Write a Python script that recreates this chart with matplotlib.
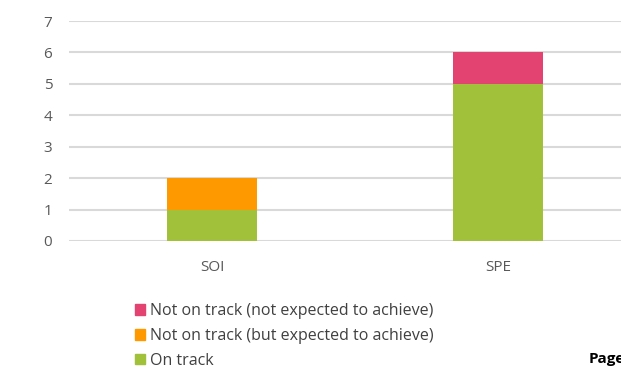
import matplotlib
matplotlib.use("Agg")
import matplotlib.pyplot as plt
from matplotlib.patches import Patch
import numpy as np

categories = ["SOI", "SPE"]
on_track = [1, 5]
not_on_track_expected = [1, 0]
not_on_track_not_expected = [0, 1]
series_names = ["On track", "Not on track (but expected to achieve)", "Not on track (not expected to achieve)"]
colors = ["#a2c13b", "#ff9900", "#e24371"]
yticks = [0, 1, 2, 3, 4, 5, 6, 7]

plt.rcParams['font.family'] = ['Open Sans', 'DejaVu Sans']

fig = plt.figure(figsize=(6.21, 3.68), dpi=100)
ax = fig.add_axes([69/621, (368-241)/368, (641-69)/621, (241-21)/368])

x = np.arange(len(categories))
w = 0.315
bottom = np.zeros(len(categories))
for vals, c in zip([on_track, not_on_track_expected, not_on_track_not_expected], colors):
    ax.bar(x, vals, w, bottom=bottom, color=c, zorder=3)
    bottom += np.array(vals)

ax.set_xlim(-0.5, 1.5)
ax.set_ylim(0, 7)
ax.set_yticks(yticks)
ax.grid(axis='y', color='#d9d9d9', linewidth=1.5, zorder=0)
ax.set_xticks(x)
ax.set_xticklabels(categories)
for s in ax.spines.values():
    s.set_visible(False)
ax.tick_params(axis='both', length=0, labelsize=11, colors='#595959')
ax.tick_params(axis='y', pad=12)
ax.tick_params(axis='x', pad=14)

handles = [Patch(color=colors[i]) for i in [2, 1, 0]]
labels = [series_names[i] for i in [2, 1, 0]]
leg = fig.legend(handles, labels, loc='upper left', bbox_to_anchor=(135/621, 1-303/368),
                 frameon=False, fontsize=11.5, handlelength=0.65, handleheight=0.65,
                 handletextpad=0.3, labelspacing=0.55, borderpad=0, borderaxespad=0)
for t in leg.get_texts():
    t.set_color('#404040')

fig.text(589/621, 1-359/368, "Page", fontsize=11, fontweight='bold', color='black', va='center', ha='left')

fig.savefig("out.png", dpi=100)
